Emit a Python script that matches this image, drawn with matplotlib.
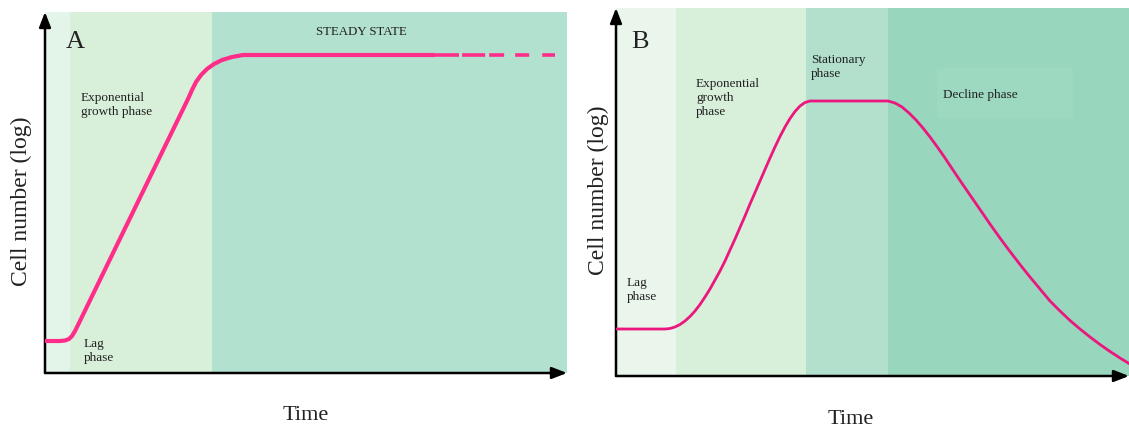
"""
Curvas de crescimento bacteriano: (A) cultura continua, (B) cultura em lote.
"""
import matplotlib.pyplot as plt
from matplotlib.patches import Rectangle

plt.rcParams["font.family"] = ["Liberation Serif", "DejaVu Serif"]
plt.rcParams["lines.scale_dashes"] = False

W, H = 1129, 429

# ---- painel A (tempo 0-100, log do numero de celulas 0-100) ----
a_phase_edges = [0, 4.8, 32.0, 100]
a_phase_colors = ["#e3f5e9", "#d8f0da", "#b3e1cf"]
a_time = [0, 2.87, 3.83, 4.60, 5.17, 5.75, 6.51,
          27.39, 28.16, 28.93, 29.89, 31.03, 32.38, 33.91, 35.82, 37.93, 74.7]
a_cells = [8.86, 8.86, 9.00, 9.42, 10.25, 11.63, 13.85,
           75.90, 78.39, 80.61, 82.55, 84.21, 85.60, 86.70, 87.53, 88.09, 88.09]
a_proj_time = [74.7, 97.7]
a_proj_cells = [88.09, 88.09]

# ---- painel B ----
b_phase_edges = [0, 11.7, 37.0, 53.0, 100]
b_phase_colors = ["#eaf5ec", "#d8efd9", "#b3e0cd", "#98d7bd"]
b_time = [0, 9.55, 10.53, 11.50, 12.48, 13.45, 14.42, 15.40, 16.37, 17.35,
          18.32, 19.30, 20.27, 21.25, 22.22, 23.20, 24.17, 25.15, 26.12,
          27.10, 28.07, 29.04, 30.02, 30.99, 31.97, 32.94, 33.92, 34.89,
          35.87, 36.84, 37.82,
          53.02, 54.39, 55.75, 57.12, 58.48, 59.84, 61.21, 62.57, 63.94,
          65.30, 67.06, 69.01, 70.96, 72.90, 74.85, 76.80, 78.75, 80.70,
          82.65, 84.60, 86.55, 88.50, 90.45, 92.40, 94.35, 96.30, 98.25, 100.0]
b_cells = [12.77, 12.77, 12.91, 13.32, 13.99, 14.95, 16.17, 17.66, 19.43,
           21.47, 23.64, 26.09, 28.53, 31.25, 34.24, 37.23, 40.35, 43.48,
           46.74, 49.86, 52.99, 56.11, 59.24, 62.23, 65.08, 67.66, 69.97,
           71.88, 73.37, 74.32, 74.73,
           74.73, 74.18, 73.10, 71.47, 69.57, 67.39, 64.95, 62.36, 59.65,
           56.79, 53.13, 49.18, 45.24, 41.30, 37.50, 33.83, 30.30, 26.90,
           23.64, 20.38, 17.66, 15.08, 12.77, 10.60, 8.56, 6.66, 4.89, 3.40]


def px_axes(fig, left, top, right, bottom):
    return fig.add_axes([left / W, 1 - bottom / H, (right - left) / W, (bottom - top) / H])


def draw_frame(ax, edges, colors):
    for x0, x1, c in zip(edges[:-1], edges[1:], colors):
        ax.axvspan(x0, x1, color=c, lw=0, zorder=0)
    ax.set_xlim(0, 100)
    ax.set_ylim(0, 100)
    ax.axis("off")
    arrow = dict(arrowstyle="-|>,head_length=0.9,head_width=0.35", lw=1.8,
                 color="black", shrinkA=0, shrinkB=0)
    ax.annotate("", xy=(0, 1), xytext=(0, 0), xycoords="axes fraction",
                arrowprops=arrow, annotation_clip=False)
    ax.annotate("", xy=(1, 0), xytext=(0, 0), xycoords="axes fraction",
                arrowprops=arrow, annotation_clip=False)


def ptext(fig, x, y, s, size=9.5, **kw):
    kw.setdefault("ha", "left")
    kw.setdefault("va", "top")
    fig.text(x / W, 1 - y / H, s, fontsize=size, color="#222222",
             linespacing=1.2, **kw)


fig = plt.figure(figsize=(W / 100, H / 100), dpi=100)

# painel A
ax = px_axes(fig, 45, 12, 567, 373)
draw_frame(ax, a_phase_edges, a_phase_colors)
ax.plot(a_time, a_cells, color="#ff2d8a", lw=3, solid_capstyle="butt",
        solid_joinstyle="round", zorder=3)
proj, = ax.plot(a_proj_time, a_proj_cells, color="#ff2d8a", lw=2.6, zorder=3)
proj.set_dashes([17.3, 2.2, 16.6, 2.9, 10.8, 7.9, 10.1, 9.4, 10.8, 30])

ptext(fig, 66, 31, "A", size=19)
ptext(fig, 81, 92, "Exponential\ngrowth phase")
ptext(fig, 84, 338, "Lag\nphase")
ptext(fig, 316, 26, "STEADY STATE", size=9.3)
ptext(fig, 21, 201, "Cell number (log)", size=17, rotation=90, ha="center", va="center")
ptext(fig, 306, 415, "Time", size=16, ha="center", va="center")

# painel B
ax = px_axes(fig, 616, 8, 1129, 376)
draw_frame(ax, b_phase_edges, b_phase_colors)
ax.add_patch(Rectangle((62.6, 70.1), 26.5, 13.6, facecolor="#9cd9c0", lw=0, zorder=1))
ax.plot(b_time, b_cells, color="#ec167f", lw=2, solid_joinstyle="round", zorder=3)

ptext(fig, 631, 31, "B", size=19)
ptext(fig, 627, 277, "Lag\nphase")
ptext(fig, 696, 78, "Exponential\ngrowth\nphase")
ptext(fig, 811, 54, "Stationary\nphase")
ptext(fig, 943, 89, "Decline phase")
ptext(fig, 598, 190, "Cell number (log)", size=17, rotation=90, ha="center", va="center")
ptext(fig, 851, 419, "Time", size=16, ha="center", va="center")

fig.savefig("out.png", dpi=100)
plt.close(fig)
